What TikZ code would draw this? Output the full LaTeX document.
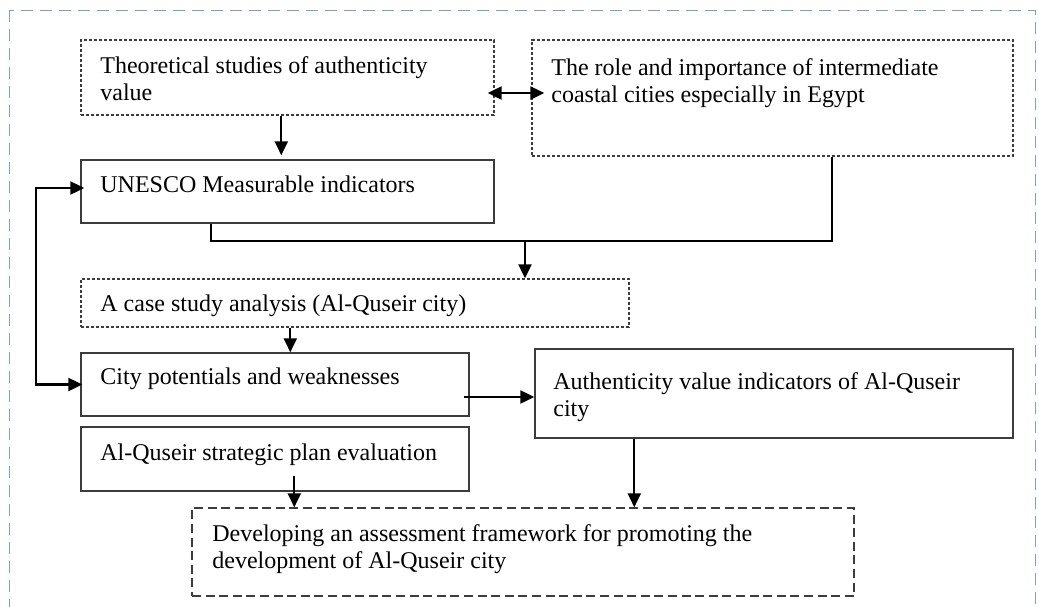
\documentclass[tikz,border=0pt]{standalone}
\usepackage{fontspec}
\setmainfont{Liberation Serif}
\usetikzlibrary{arrows.meta,fit,calc}
\definecolor{framecol}{RGB}{125,160,200}
\definecolor{boxcol}{RGB}{60,60,60}
\tikzset{
	solidbox/.style={draw=boxcol, line width=0.7pt, inner sep=0pt},
	dotbox/.style={draw=boxcol, line width=0.7pt, inner sep=0pt, dash pattern=on 1.7pt off 0.8pt},
	longdashbox/.style={draw=boxcol, line width=0.7pt, inner sep=0pt, dash pattern=on 4.5pt off 2.3pt},
	txt/.style={anchor=base west, inner sep=0pt, align=left, font=\fontsize{12pt}{13.5pt}\selectfont},
	conn/.style={line width=1.1pt},
	arr/.style={conn, -{Triangle[length=7pt,width=6.5pt]}},
	dblarr/.style={conn, {Triangle[length=7pt,width=6.5pt]}-{Triangle[length=7pt,width=6.5pt]}}
}
\begin{document}
\begin{tikzpicture}[x=0.5pt,y=-0.5pt]
	\useasboundingbox (0,0) rectangle (1039,606);
	% outer frame
	\draw[framecol, line width=0.5pt, dash pattern=on 6pt off 3.5pt] (9,10) rectangle (1035,630);

	% boxes
	\node[dotbox, fit={(81,40) (494,115)}] (theo) {};
	\node[dotbox, fit={(532,40) (1013,156)}] (role) {};
	\node[solidbox, fit={(81,160) (494,223)}] (unesco) {};
	\node[dotbox, fit={(81,279) (629,327)}] (case) {};
	\node[solidbox, fit={(81,353) (469,416)}] (city) {};
	\node[solidbox, fit={(81,427) (469,491)}] (strat) {};
	\node[solidbox, fit={(535,349) (1013,438)}] (auth) {};
	\node[longdashbox, fit={(192,508) (854,596)}] (dev) {};

	% texts (base = last line)
	\node[txt] (theo-t) at (100,100) {Theoretical studies of authenticity\\value};
	\node[txt] (role-t) at (551,102) {The role and importance of intermediate\\coastal cities especially in Egypt};
	\node[txt] (unesco-t) at (100,192) {UNESCO Measurable indicators};
	\node[txt] (case-t) at (100,311) {A case study analysis (Al-Quseir city)};
	\node[txt] (city-t) at (100,384) {City potentials and weaknesses};
	\node[txt] (strat-t) at (100,460) {Al-Quseir strategic plan evaluation};
	\node[txt] (auth-t) at (553,416) {Authenticity value indicators of Al-Quseir\\city};
	\node[txt] (dev-t) at (212,568) {Developing an assessment framework for promoting the\\development of Al-Quseir city};

	% connectors
	\coordinate (tr) at ([yshift=-7.75pt]theo.east);
	\draw[dblarr, shorten <=-3.5pt, shorten >=-6.5pt] (tr) -- (tr -| role.west);
	\draw[arr, shorten >=2pt] ([xshift=100.5pt]theo.south west) -- ([xshift=100.5pt]unesco.north west);

	\coordinate (junc) at (525,241);
	\draw[conn] ([xshift=65.5pt]unesco.south west) |- (junc) -| ([xshift=150.5pt]role.south west);
	\draw[arr] (junc) -- (junc |- case.north);

	\coordinate (ul) at ([yshift=1.75pt]unesco.west);
	\draw[dblarr, shorten <=-2pt, shorten >=-1pt] (ul) -- ++(-22pt,0) |- (city.west);

	\draw[arr] ([xshift=105pt]case.south west) -- ([xshift=105pt]city.north west);

	\coordinate (ca) at ([xshift=-3pt,yshift=-6.25pt]city.east);
	\draw[arr] (ca) -- (ca -| auth.west);

	\coordinate (sd) at ([xshift=107pt,yshift=8pt]strat.south west);
	\draw[arr] (sd) -- (sd |- dev.north);

	\draw[arr] ([xshift=50pt]auth.south west) -- ([xshift=50pt]auth.south west |- dev.north);
\end{tikzpicture}
\end{document}
